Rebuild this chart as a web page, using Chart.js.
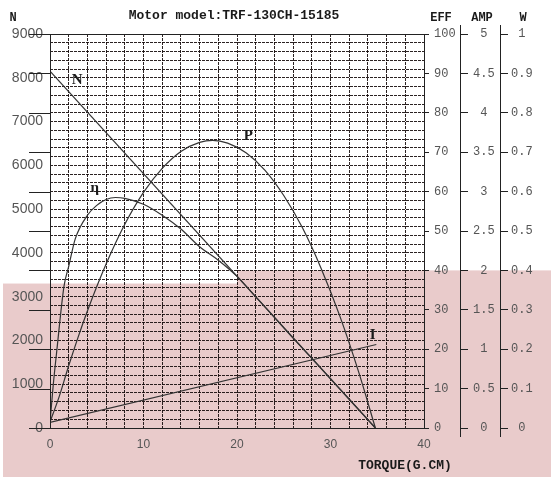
<!DOCTYPE html>
<html>
<head>
<meta charset="utf-8">
<script src="https://cdn.jsdelivr.net/npm/chart.js@4/dist/chart.umd.min.js"></script>
<style>
  html, body { margin: 0; padding: 0; background: #fff; }
  canvas { display: block; }
</style>
</head>
<body>
<canvas id="motorChart" width="551" height="477"></canvas>
<script>
// values (torque in g.cm)
var speedTorque = [0, 34.8];
var speedValues = [8150, 0];

var effTorque = [0, 0.35, 0.7, 1.5, 2, 2.7, 4, 5, 6, 7, 8, 10, 12, 14, 16, 18, 20, 22, 24, 26, 28, 30, 32, 34.8];
var effValues = [1.4, 11, 19, 36, 41, 48, 54, 56.5, 58, 58.5, 58.3, 56.8, 54, 50.5, 46, 42.6, 38.5, 33.3, 28.1, 22.8, 17.7, 12.5, 7.3, 0];

var powerTorque = [0, 1, 2, 3, 4, 6, 8, 10, 12, 14, 16, 17.4, 19, 21, 23, 25, 27, 29, 31, 33, 34.8];
var powerValues = [0.015, 0.081, 0.158, 0.23, 0.297, 0.416, 0.517, 0.598, 0.659, 0.702, 0.725, 0.73, 0.723, 0.698, 0.654, 0.59, 0.508, 0.405, 0.284, 0.143, 0];

var currentTorque = [0, 34.9];
var currentValues = [0.07, 1.06];

var torqueLabels = [0, 10, 20, 30, 40];
var speedLabels = [0, 1000, 2000, 3000, 4000, 5000, 6000, 7000, 8000, 9000];

function pts(xs, ys) {
    return xs.map(function(x, i){ return {x: x, y: ys[i]}; });
}

// 4.0 -> "4", 4.5 -> "4.5"
function plainNum(v) {
    return String(Math.round(v * 10) / 10);
}

var lineColor = '#333';
var gridColor = 'rgba(20,10,10,0.9)';
var pink = 'rgb(233,203,203)';

var sheetPlugin = {
    id: 'sheet',
    beforeDraw: function(chart) {
        var ctx = chart.ctx;
        var xs = chart.scales.x, yN = chart.scales.yN, yE = chart.scales.yE;
        var split = xs.getPixelForValue(20);
        ctx.save();
        ctx.fillStyle = pink;
        var t1 = yN.getPixelForValue(3300);
        ctx.fillRect(3, t1, split - 3, chart.height - t1);
        var t2 = yE.getPixelForValue(40);
        ctx.fillRect(split, t2, chart.width - split, chart.height - t2);
        ctx.restore();
    },
    afterDraw: function(chart) {
        var ctx = chart.ctx;
        var a = chart.chartArea;
        var yE = chart.scales.yE, yA = chart.scales.yA, yW = chart.scales.yW;
        ctx.save();
        ctx.strokeStyle = '#222';
        ctx.lineWidth = 1;
        ctx.setLineDash([]);
        ctx.strokeRect(Math.round(a.left) + 0.5, Math.round(a.top) + 0.5,
            Math.round(a.right - a.left), Math.round(a.bottom - a.top));
        // left side ticks (they sit on the EFF decades in the original)
        for (var v = 0; v <= 100; v += 10) {
            var y = Math.round(yE.getPixelForValue(v)) + 0.5;
            ctx.beginPath();
            ctx.moveTo(a.left - 21, y);
            ctx.lineTo(a.left, y);
            ctx.stroke();
        }
        // long AMP / W axis lines
        [yA, yW].forEach(function(s){
            var x = Math.round(s.left) + 0.5;
            ctx.beginPath();
            ctx.moveTo(x, a.top - 9);
            ctx.lineTo(x, a.bottom + 9);
            ctx.stroke();
        });

        ctx.fillStyle = '#1a1a1a';
        ctx.textBaseline = 'middle';
        ctx.textAlign = 'center';
        ctx.font = 'bold 13px "Liberation Mono"';
        ctx.fillText('Motor model:TRF-130CH-15185', 234, 16);
        ctx.fillText('TORQUE(G.CM)', 405, 466);
        ctx.font = 'bold 12px "Liberation Mono"';
        ctx.fillText('N', 13, 18);
        ctx.fillText('EFF', 441, 18);
        ctx.fillText('AMP', 482, 18);
        ctx.fillText('W', 523, 18);

        // curve names
        var xs = chart.scales.x;
        ctx.font = 'bold 15px "Liberation Serif"';
        ctx.fillText('N', xs.getPixelForValue(2.9), chart.scales.yN.getPixelForValue(7950));
        ctx.fillText('P', xs.getPixelForValue(21.2), yW.getPixelForValue(0.741));
        ctx.fillText('\u03b7', xs.getPixelForValue(4.8), yE.getPixelForValue(60.9));
        ctx.fillText('I', xs.getPixelForValue(34.5), yA.getPixelForValue(1.18));
        ctx.restore();
    }
};

function fixWidth(w) {
    return function(scale){ scale.width = w; };
}

var ctx = document.getElementById('motorChart');
var motorChart = new Chart(ctx, {
    type: 'line',
    data: {
        datasets: [
            { label: 'N', data: pts(speedTorque, speedValues), yAxisID: 'yN', tension: 0 },
            { label: 'EFF', data: pts(effTorque, effValues), yAxisID: 'yE', cubicInterpolationMode: 'monotone' },
            { label: 'P', data: pts(powerTorque, powerValues), yAxisID: 'yW', cubicInterpolationMode: 'monotone' },
            { label: 'I', data: pts(currentTorque, currentValues), yAxisID: 'yA', tension: 0 }
        ]
    },
    options: {
        responsive: false,
        animation: false,
        devicePixelRatio: 1,
        parsing: false,
        elements: {
            line: { borderColor: lineColor, borderWidth: 1.2, fill: false },
            point: { radius: 0 }
        },
        layout: { padding: { top: 34, left: 0, right: 0, bottom: 0 } },
        plugins: {
            legend: { display: false },
            tooltip: { enabled: false }
        },
        scales: {
            x: {
                type: 'linear',
                position: 'bottom',
                min: 0,
                max: 40,
                afterFit: function(scale){ scale.height = 49; },
                ticks: {
                    stepSize: 2,
                    autoSkip: false,
                    maxRotation: 0,
                    padding: 9,
                    color: '#555',
                    font: { family: 'Liberation Sans', size: 12 },
                    callback: function(v){ return torqueLabels.indexOf(v) >= 0 ? v : ''; }
                },
                grid: { color: gridColor, drawTicks: false },
                border: { display: false, dash: [3, 1] }
            },
            yN: {
                type: 'linear',
                position: 'left',
                min: 0,
                max: 9000,
                afterFit: fixWidth(50),
                ticks: {
                    stepSize: 200,
                    autoSkip: false,
                    padding: 7,
                    color: '#555',
                    font: { family: 'Liberation Sans', size: 14 },
                    callback: function(v){ return speedLabels.indexOf(v) >= 0 ? v : ''; }
                },
                grid: { color: gridColor, drawTicks: false },
                border: { display: false, dash: [3, 1] }
            },
            yE: {
                type: 'linear',
                position: 'right',
                weight: 0,
                min: 0,
                max: 100,
                afterFit: fixWidth(36),
                ticks: {
                    stepSize: 10,
                    autoSkip: false,
                    padding: 5,
                    color: '#555',
                    font: { family: 'Liberation Mono', size: 12 },
                    callback: plainNum
                },
                grid: { drawOnChartArea: false, tickLength: 5, tickColor: '#222' },
                border: { display: false }
            },
            yA: {
                type: 'linear',
                position: 'right',
                weight: 1,
                min: 0,
                max: 5,
                afterFit: fixWidth(40),
                ticks: {
                    stepSize: 0.5,
                    autoSkip: false,
                    padding: 5,
                    crossAlign: 'center',
                    color: '#555',
                    font: { family: 'Liberation Mono', size: 12 },
                    callback: plainNum
                },
                grid: { drawOnChartArea: false, tickLength: 8, tickColor: '#222' },
                border: { display: false }
            },
            yW: {
                type: 'linear',
                position: 'right',
                weight: 2,
                min: 0,
                max: 1,
                afterFit: fixWidth(51),
                ticks: {
                    stepSize: 0.1,
                    autoSkip: false,
                    padding: 3,
                    crossAlign: 'center',
                    color: '#555',
                    font: { family: 'Liberation Mono', size: 12 },
                    callback: plainNum
                },
                grid: { drawOnChartArea: false, tickLength: 8, tickColor: '#222' },
                border: { display: false }
            }
        }
    },
    plugins: [sheetPlugin]
});
</script>
</body>
</html>
